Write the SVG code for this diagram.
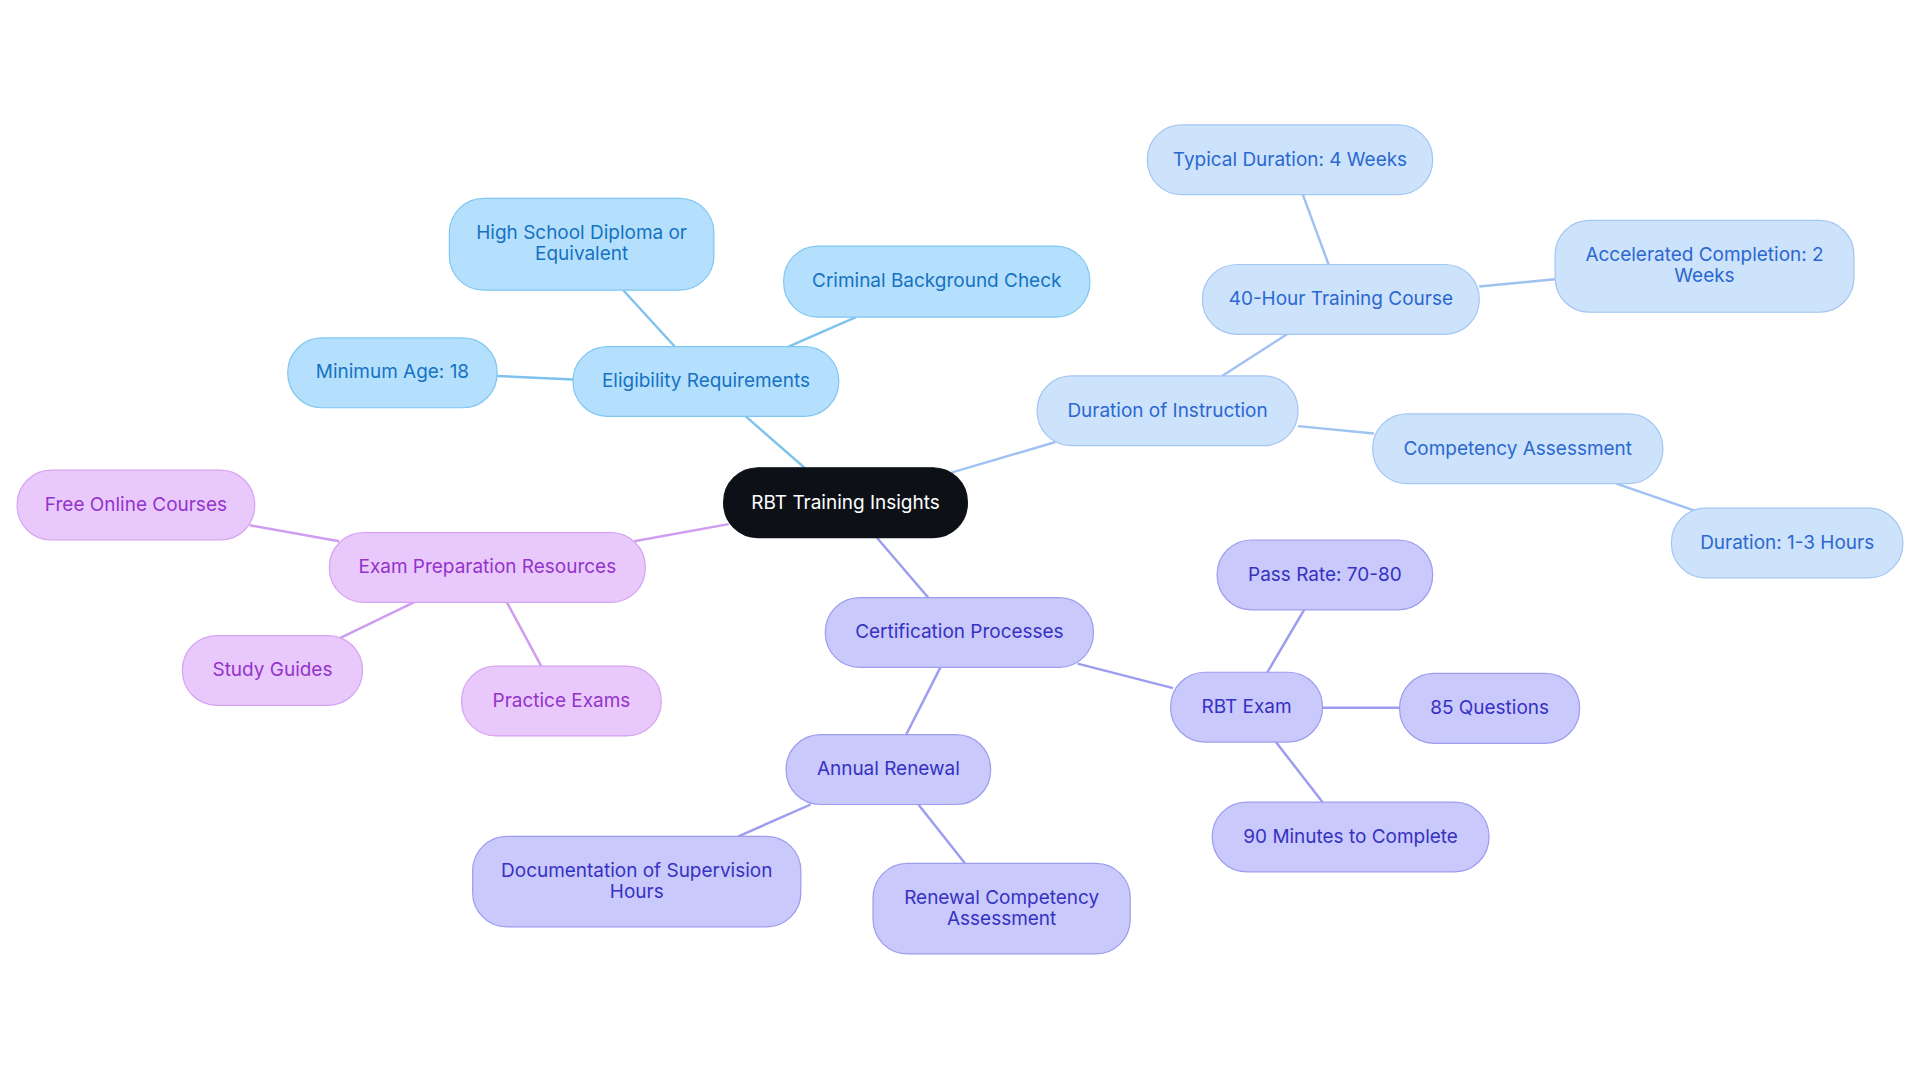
<svg xmlns="http://www.w3.org/2000/svg" width="1920" height="1083" viewBox="0 0 1920 1083">
<style>
text{font-family:Inter,"Noto Sans",sans-serif;font-size:15.5px;text-anchor:middle;dominant-baseline:central}
.c rect{fill:#0d1117;stroke:#0d1117}.c text{fill:#fff}
.e rect{fill:#b5e0fd;stroke:#7fc6f2}.e text{fill:#1572c2}
.d rect{fill:#cde2fb;stroke:#a3c6f2}.d text{fill:#2b68cf}
.p rect{fill:#c9c9fb;stroke:#9c9cf0}.p text{fill:#3631c2}
.x rect{fill:#e9c9fb;stroke:#d6a2f2}.x text{fill:#9333cc}
rect{stroke-width:1}
#edges line{stroke-width:2}
.le{stroke:#7fc2ee}.ld{stroke:#9fc2f0}.lp{stroke:#9c9cf0}.lx{stroke:#cf9cf2}
</style>
<rect width="1920" height="1083" fill="#fff"/>
<g transform="scale(1.2245)">
<g id="edges">
<line class="le" x1="657" y1="382" x2="609" y2="340"/>
<line class="le" x1="551" y1="283" x2="509" y2="237"/>
<line class="le" x1="644" y1="283" x2="699" y2="259"/>
<line class="le" x1="468" y1="310" x2="406" y2="307"/>
<line class="ld" x1="777" y1="386" x2="862" y2="361"/>
<line class="ld" x1="998" y1="307" x2="1051" y2="273"/>
<line class="ld" x1="1085" y1="216" x2="1064" y2="159"/>
<line class="ld" x1="1208" y1="234" x2="1270" y2="228"/>
<line class="ld" x1="1060" y1="348" x2="1122" y2="354"/>
<line class="ld" x1="1320" y1="395" x2="1384" y2="417"/>
<line class="lp" x1="716" y1="439" x2="758" y2="488"/>
<line class="lp" x1="880" y1="542" x2="958" y2="562"/>
<line class="lp" x1="1035" y1="549" x2="1065" y2="498"/>
<line class="lp" x1="1080" y1="578" x2="1143" y2="578"/>
<line class="lp" x1="1042" y1="606" x2="1080" y2="655"/>
<line class="lp" x1="768" y1="545" x2="740" y2="600"/>
<line class="lp" x1="662" y1="657" x2="603" y2="683"/>
<line class="lp" x1="750" y1="657" x2="788" y2="705"/>
<line class="lx" x1="595" y1="428" x2="518" y2="442"/>
<line class="lx" x1="277" y1="442" x2="204" y2="429"/>
<line class="lx" x1="338" y1="492" x2="278" y2="521"/>
<line class="lx" x1="414" y1="492" x2="442" y2="544"/>
</g>
<g id="root" class="c"><rect x="591" y="382" width="199" height="57" rx="28"/><text x="690.5" y="410.5">RBT Training Insights</text></g>
<g id="elig" class="e"><rect x="468" y="283" width="217" height="57" rx="28"/><text x="576.5" y="311">Eligibility Requirements</text></g>
<g id="hs" class="e"><rect x="367" y="162" width="216" height="75" rx="28"/><text x="475" y="190">High School Diploma or</text><text x="475" y="207">Equivalent</text></g>
<g id="crim" class="e"><rect x="640" y="201" width="250" height="58" rx="28"/><text x="765" y="229">Criminal Background Check</text></g>
<g id="age" class="e"><rect x="235" y="276" width="171" height="57" rx="28"/><text x="320.5" y="303">Minimum Age: 18</text></g>
<g id="dur" class="d"><rect x="847" y="307" width="213" height="57" rx="28"/><text x="953.5" y="335">Duration of Instruction</text></g>
<g id="h40" class="d"><rect x="982" y="216" width="226" height="57" rx="28"/><text x="1095" y="244">40-Hour Training Course</text></g>
<g id="typ" class="d"><rect x="937" y="102" width="233" height="57" rx="28"/><text x="1053.5" y="130">Typical Duration: 4 Weeks</text></g>
<g id="acc" class="d"><rect x="1270" y="180" width="244" height="75" rx="28"/><text x="1392" y="208">Accelerated Completion: 2</text><text x="1392" y="225">Weeks</text></g>
<g id="comp" class="d"><rect x="1121" y="338" width="237" height="57" rx="28"/><text x="1239.5" y="366">Competency Assessment</text></g>
<g id="d13" class="d"><rect x="1365" y="415" width="189" height="57" rx="28"/><text x="1459.5" y="443">Duration: 1-3 Hours</text></g>
<g id="cert" class="p"><rect x="674" y="488" width="219" height="57" rx="28"/><text x="783.5" y="516">Certification Processes</text></g>
<g id="exam" class="p"><rect x="956" y="549" width="124" height="57" rx="28"/><text x="1018" y="577">RBT Exam</text></g>
<g id="pass" class="p"><rect x="994" y="441" width="176" height="57" rx="28"/><text x="1082" y="469">Pass Rate: 70-80</text></g>
<g id="q85" class="p"><rect x="1143" y="550" width="147" height="57" rx="28"/><text x="1216.5" y="578">85 Questions</text></g>
<g id="m90" class="p"><rect x="990" y="655" width="226" height="57" rx="28"/><text x="1103" y="683">90 Minutes to Complete</text></g>
<g id="ann" class="p"><rect x="642" y="600" width="167" height="57" rx="28"/><text x="725.5" y="628">Annual Renewal</text></g>
<g id="doc" class="p"><rect x="386" y="683" width="268" height="74" rx="28"/><text x="520" y="711">Documentation of Supervision</text><text x="520" y="728">Hours</text></g>
<g id="ren" class="p"><rect x="713" y="705" width="210" height="74" rx="28"/><text x="818" y="733">Renewal Competency</text><text x="818" y="750">Assessment</text></g>
<g id="prep" class="x"><rect x="269" y="435" width="258" height="57" rx="28"/><text x="398" y="463">Exam Preparation Resources</text></g>
<g id="free" class="x"><rect x="14" y="384" width="194" height="57" rx="28"/><text x="111" y="412">Free Online Courses</text></g>
<g id="study" class="x"><rect x="149" y="519" width="147" height="57" rx="28"/><text x="222.5" y="547">Study Guides</text></g>
<g id="prac" class="x"><rect x="377" y="544" width="163" height="57" rx="28"/><text x="458.5" y="572">Practice Exams</text></g>
</g>
</svg>
